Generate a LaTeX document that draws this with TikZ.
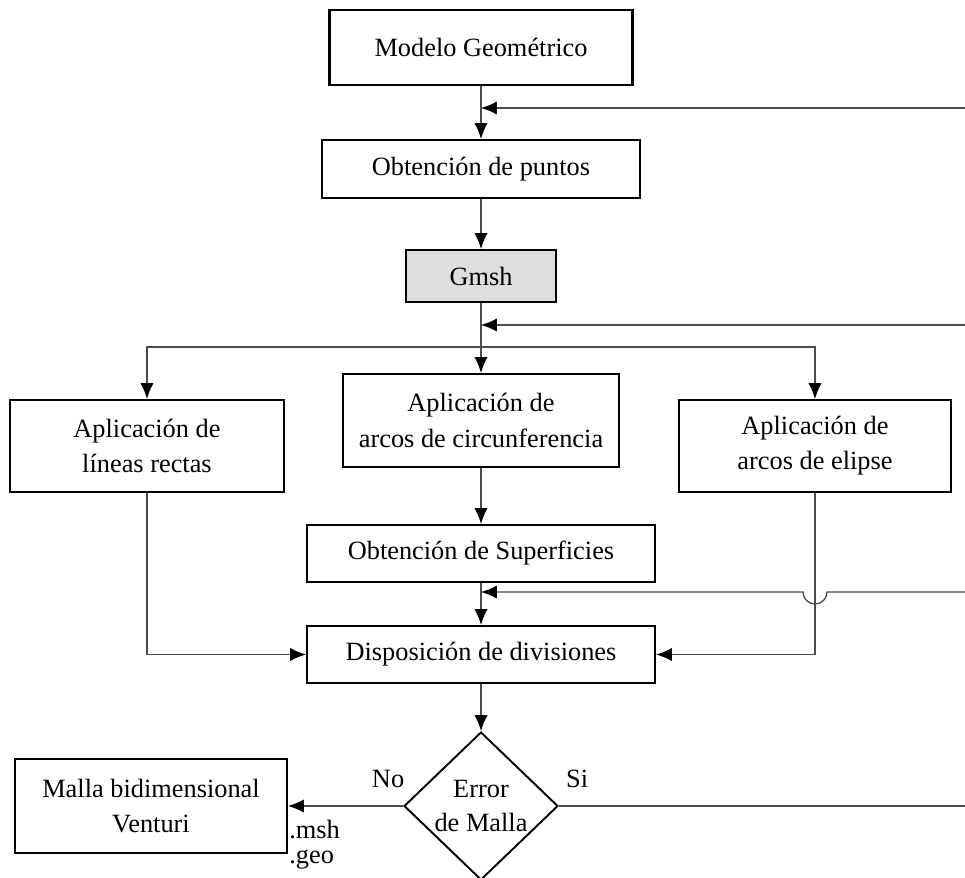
\documentclass[tikz,border=0pt]{standalone}
\usepackage{fontspec}
\setmainfont{Liberation Serif}
\usetikzlibrary{arrows.meta,shapes.geometric}
\definecolor{gmshgray}{rgb}{0.870588,0.870588,0.870588}
\definecolor{linegray}{rgb}{0.300000,0.300000,0.300000}
\tikzset{
  caja/.style={draw=black,line width=1.2pt,rectangle,inner sep=0pt,align=center,font=\fontsize{15}{20}\selectfont},
  rombo/.style={draw=black,line width=1.1pt,diamond,inner sep=0pt,align=center,font=\fontsize{15}{19}\selectfont},
  flecha/.style={draw=linegray,line width=0.75pt,-{Latex[length=9pt,width=7.5pt,color=black]}},
  linea/.style={draw=linegray,line width=0.75pt},
  etiqueta/.style={font=\fontsize{15}{14}\selectfont,inner sep=0pt}
}
\begin{document}
\begin{tikzpicture}[x=0.02cm,y=-0.02cm]
                        \useasboundingbox (0,0) rectangle (965,877);

                        % Boxes of the main column
                        \node [caja,minimum width=6.06cm,minimum height=1.5cm] (modelo) at (481,47.5) {Modelo Geométrico};
                        \node [caja,minimum width=6.36cm,minimum height=1.16cm] (puntos) at (481,169) {Obtención de puntos};
                        \node [caja,fill=gmshgray,minimum width=3cm,minimum height=1.04cm] (gmsh) at (481,276) {Gmsh};

                        % Three ways of applying the curves
                        \node [caja,minimum width=5.48cm,minimum height=1.84cm] (rectas) at (147,446) {Aplicación de\\líneas rectas};
                        \node [caja,minimum width=5.52cm,minimum height=1.86cm] (circ) at (481,420.5) {Aplicación de\\arcos de circunferencia};
                        \node [caja,minimum width=5.44cm,minimum height=1.84cm] (elipse) at (815,446) {Aplicación de\\arcos de elipse};

                        \node [caja,minimum width=6.96cm,minimum height=1.14cm] (superf) at (481,553.5) {Obtención de Superficies};
                        \node [caja,minimum width=6.96cm,minimum height=1.14cm] (dispos) at (481,654.5) {Disposición de divisiones};

                        % Decision and result
                        \node [rombo,minimum width=3.08cm,minimum height=2.96cm] (error) at (481,806) {Error\\de Malla};
                        \node [caja,minimum width=5.44cm,minimum height=1.88cm] (malla) at (151,806) {Malla bidimensional\\Venturi};

                        % Free ends at the right edge
                        \coordinate (ret1) at (965,108);
                        \coordinate (ret2) at (965,325);
                        \coordinate (ret3) at (965,592);
                        \coordinate (ret4) at (965,806);
                        \coordinate (split) at (481,347);

                        % Drawing line modelo puntos
                        \draw [flecha] (modelo.south) -- (puntos.north);
                        \draw [flecha] (ret1) -- (puntos.north |- ret1);

                        % Drawing line puntos gmsh circ
                        \draw [flecha] (puntos.south) -- (gmsh.north);
                        \draw [flecha] (gmsh.south) -- (circ.north);
                        \draw [flecha] (ret2) -- (gmsh.south |- ret2);

                        % Drawing branches
                        \draw [flecha] (split) -| (rectas.north);
                        \draw [flecha] (split) -| (elipse.north);

                        % Drawing line circ superf dispos
                        \draw [flecha] (circ.south) -- (superf.north);
                        \draw [flecha] (superf.south) -- (dispos.north);

                        % Drawing return line with hop over elipse line
                        \draw [flecha] (ret3) -- (827,592) arc (0:180:12) -- (superf.south |- ret3);

                        % Drawing side lines into dispos
                        \draw [flecha] (rectas.south) |- (dispos.west);
                        \draw [flecha] (elipse.south) |- (dispos.east);

                        % Drawing line dispos error
                        \draw [flecha] (dispos.south) -- (error.north);

                        % Drawing outputs of error
                        \draw [flecha] (error.west) -- (malla.east) node [etiqueta,pos=0.13,above=10pt] (no) {No};
                        \draw [linea] (error.east) -- (ret4) node [etiqueta,pos=0.045,above=10pt] (si) {Si};

                        % Marking file types
                        \node [etiqueta,align=left,anchor=north west] (tipos) at (289,820) {.msh\\.geo};
                    \end{tikzpicture}
\end{document}
